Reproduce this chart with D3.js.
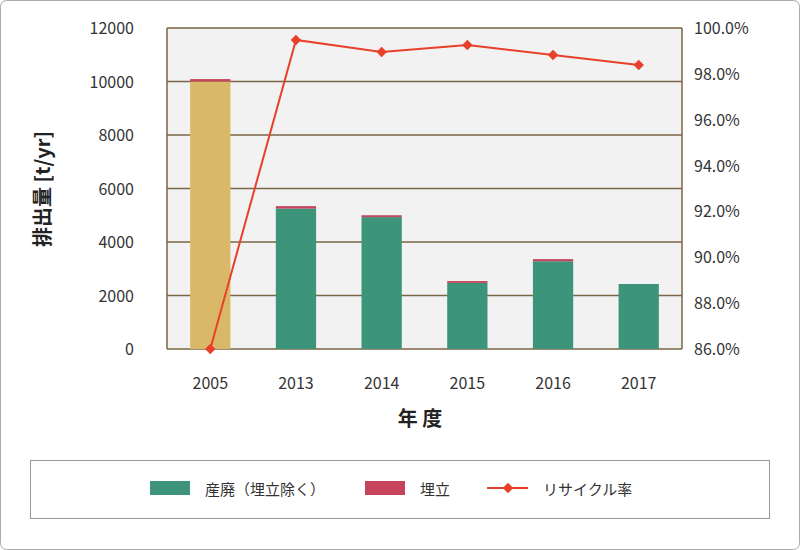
<!DOCTYPE html>
<html><head><meta charset="utf-8">
<script src="https://cdn.jsdelivr.net/npm/d3@7"></script>
<style>body{margin:0;background:#fff}text{font-family:"Noto Sans CJK JP","Noto Sans",sans-serif}</style>
</head><body><svg id="c" width="800" height="550"></svg>
<script>
var years = ["2005","2013","2014","2015","2016","2017"];
var industrial = [10000, 5250, 4930, 2470, 3280, 2430];
var landfill = [90, 90, 70, 70, 80, 0];
var recycleRate = [86.0, 99.48, 98.95, 99.26, 98.82, 98.39];
var leftTicks = [0, 2000, 4000, 6000, 8000, 10000, 12000];
var rightTicks = [86, 88, 90, 92, 94, 96, 98, 100];

var svg = d3.select("#c");
var m = {l: 167, r: 682, t: 28, b: 349};

svg.append("rect").attr("x", 0.5).attr("y", 0.5).attr("width", 799).attr("height", 549)
    .attr("rx", 6).attr("fill", "#fff").attr("stroke", "#aaa");

var x = d3.scaleBand().domain(years).range([m.l, m.r]).paddingInner(0.53).paddingOuter(0.27);
var y = d3.scaleLinear().domain([0, 12000]).range([m.b, m.t]);
var y2 = d3.scaleLinear().domain([86, 100]).range([m.b, m.t]);

svg.append("rect").attr("x", m.l).attr("y", m.t).attr("width", m.r - m.l).attr("height", m.b - m.t)
    .attr("fill", "#f2f2f2");

// gridlines
svg.append("g").selectAll("line").data(leftTicks).join("line")
    .attr("x1", m.l).attr("x2", m.r)
    .attr("y1", function(d) {return y(d)}).attr("y2", function(d) {return y(d)})
    .attr("stroke", "#7a6545").attr("stroke-width", 1.5);
svg.append("g").selectAll("line").data([m.l, m.r]).join("line")
    .attr("x1", function(d) {return d}).attr("x2", function(d) {return d})
    .attr("y1", m.t).attr("y2", m.b).attr("stroke", "#7a6545").attr("stroke-width", 1.5);

// bars
var bars = svg.append("g");
years.forEach(function(yr, i) {
    bars.append("rect").attr("x", x(yr)).attr("width", x.bandwidth())
        .attr("y", y(industrial[i])).attr("height", y(0) - y(industrial[i]))
        .attr("fill", i === 0 ? "#d9b968" : "#3c957a");
    if (landfill[i] > 0)
        bars.append("rect").attr("x", x(yr)).attr("width", x.bandwidth())
            .attr("y", y(industrial[i] + landfill[i])).attr("height", y(0) - y(landfill[i]))
            .attr("fill", "#c5435c");
});

// rate line
var line = d3.line().x(function(d, i) {return x(years[i]) + x.bandwidth() / 2}).y(function(d) {return y2(d)});
svg.append("path").datum(recycleRate).attr("d", line).attr("fill", "none")
    .attr("stroke", "#e8402a").attr("stroke-width", 2);
svg.append("g").selectAll("path").data(recycleRate).join("path")
    .attr("d", d3.symbol(d3.symbolDiamond2, 70))
    .attr("transform", function(d, i) {return "translate(" + (x(years[i]) + x.bandwidth() / 2) + "," + y2(d) + ")"})
    .attr("fill", "#e8402a");

// tick labels
var lbl = svg.append("g").attr("font-size", 16).attr("fill", "#333");
lbl.selectAll("text.l").data(leftTicks).join("text").attr("class", "l")
    .attr("x", 134).attr("y", function(d) {return y(d) + 6}).attr("text-anchor", "end")
    .text(function(d) {return d});
lbl.selectAll("text.r").data(rightTicks).join("text").attr("class", "r")
    .attr("x", 694).attr("y", function(d) {return y2(d) + 6})
    .text(function(d) {return d.toFixed(1) + "%"});
lbl.selectAll("text.x").data(years).join("text").attr("class", "x")
    .attr("x", function(d) {return x(d) + x.bandwidth() / 2}).attr("y", 389).attr("text-anchor", "middle")
    .text(function(d) {return d});

svg.append("text").attr("transform", "translate(50,189) rotate(-90)").attr("text-anchor", "middle")
    .attr("font-size", 20).attr("font-weight", "bold").attr("fill", "#222").text("排出量 [t/yr]");
svg.append("text").attr("x", 420).attr("y", 426).attr("text-anchor", "middle")
    .attr("font-size", 20).attr("font-weight", "bold").attr("fill", "#222").text("年 度");

// legend
var lg = svg.append("g");
lg.append("rect").attr("x", 30.5).attr("y", 460.5).attr("width", 739).attr("height", 58)
    .attr("fill", "#fff").attr("stroke", "#999");
lg.append("rect").attr("x", 150).attr("y", 481).attr("width", 40).attr("height", 14).attr("fill", "#3c957a");
lg.append("text").attr("x", 205).attr("y", 495).attr("font-size", 15).attr("fill", "#333").text("産廃（埋立除く）");
lg.append("rect").attr("x", 365).attr("y", 481).attr("width", 40).attr("height", 14).attr("fill", "#c5435c");
lg.append("text").attr("x", 420).attr("y", 495).attr("font-size", 15).attr("fill", "#333").text("埋立");
lg.append("line").attr("x1", 487).attr("x2", 528).attr("y1", 488).attr("y2", 488).attr("stroke", "#e8402a").attr("stroke-width", 2);
lg.append("path").attr("d", d3.symbol(d3.symbolDiamond2, 70)).attr("transform", "translate(508,488)").attr("fill", "#e8402a");
lg.append("text").attr("x", 543).attr("y", 495).attr("font-size", 15).attr("fill", "#333").text("リサイクル率");
</script></body></html>
